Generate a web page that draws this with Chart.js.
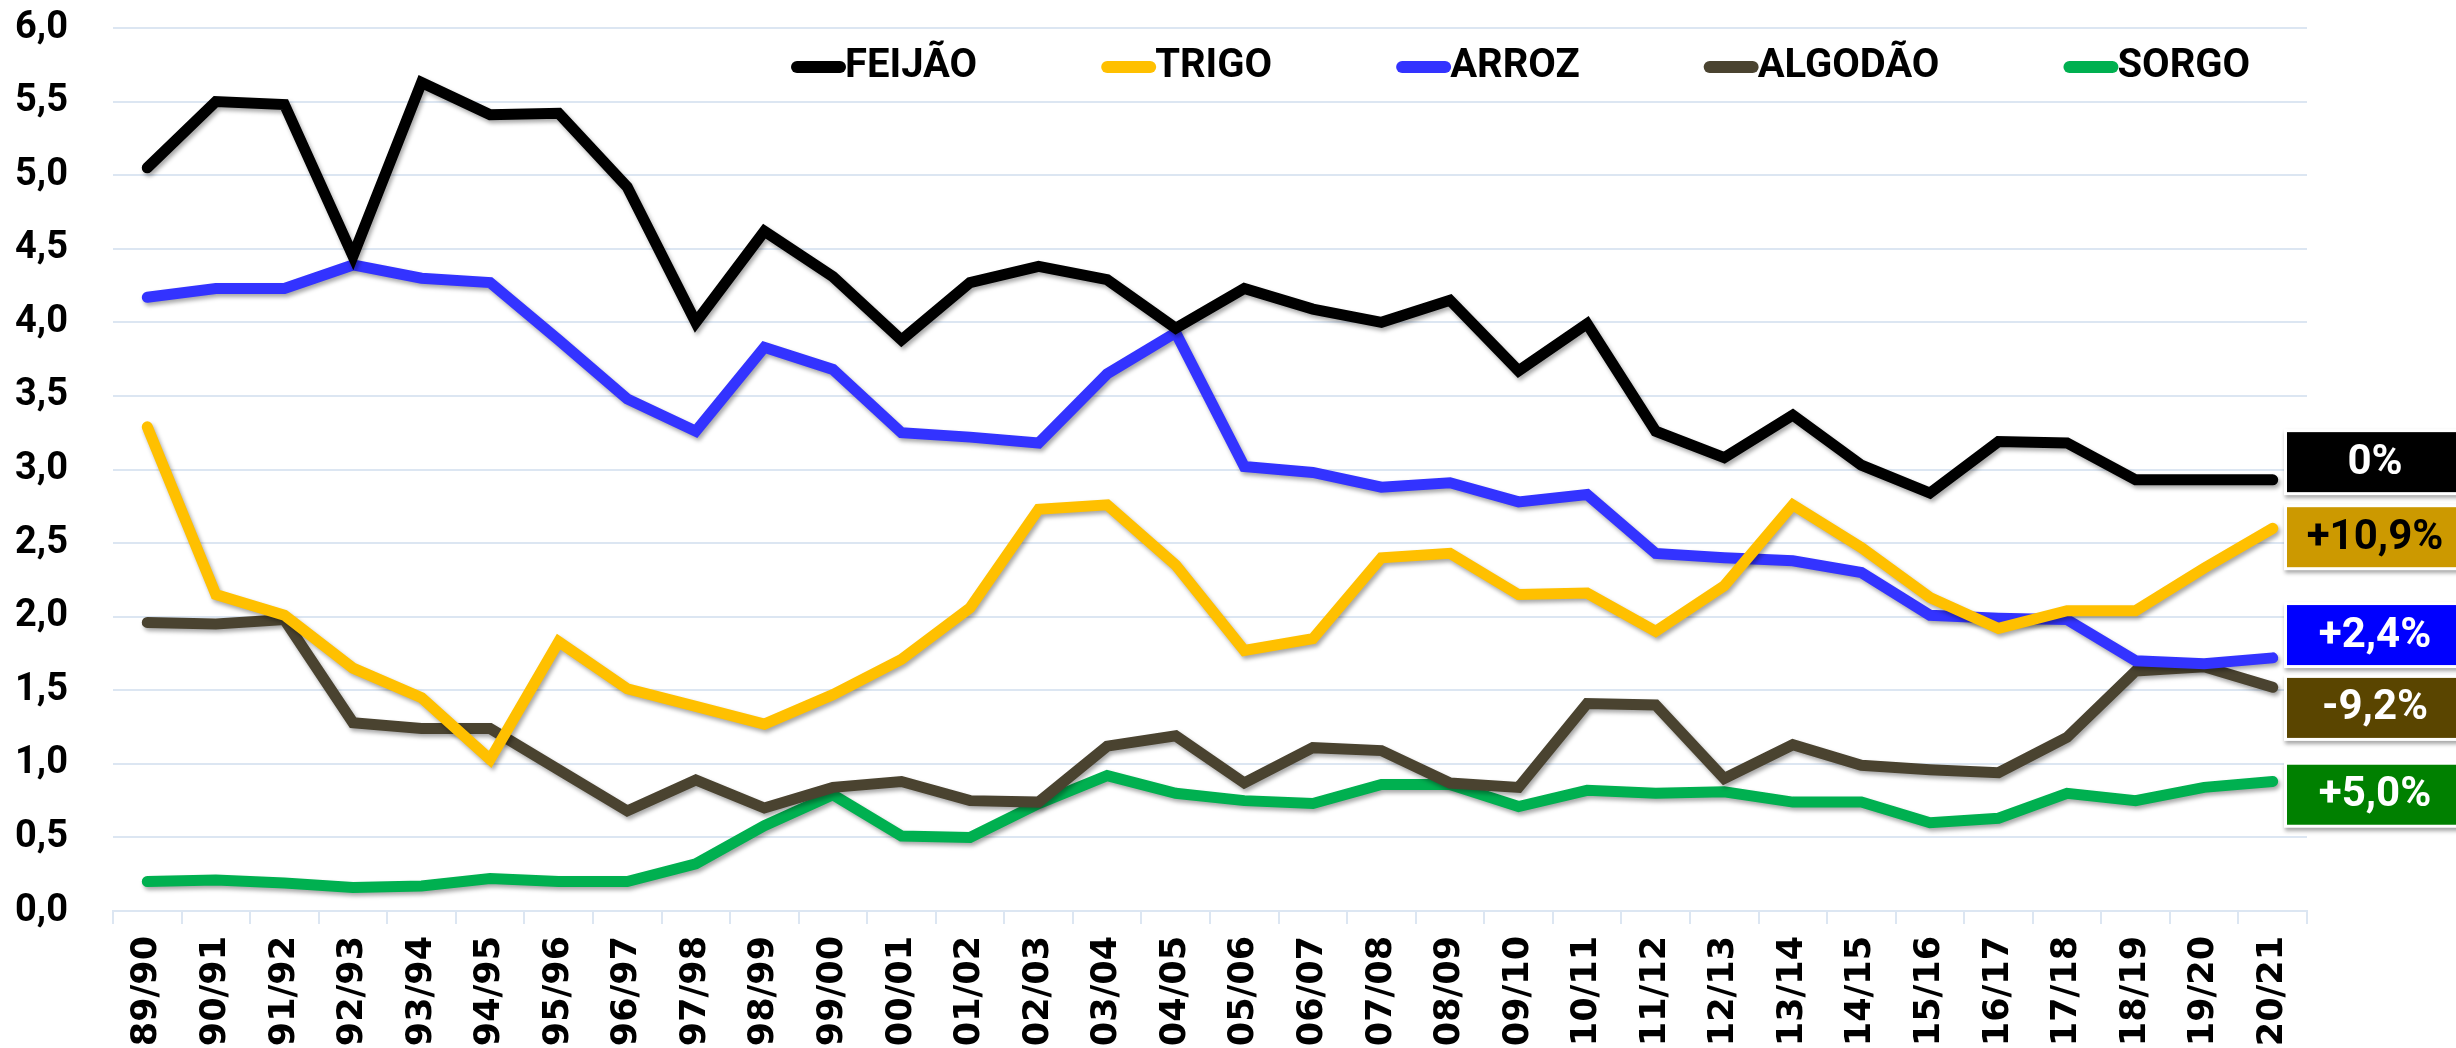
<!DOCTYPE html>
<html>
<head>
<meta charset="utf-8">
<script src="https://cdn.jsdelivr.net/npm/chart.js@4.4.1/dist/chart.umd.min.js"></script>
<style>
  html, body { margin: 0; padding: 0; background: #fff; }
  #wrap { width: 2456px; height: 1048px; position: relative; }
</style>
</head>
<body>
<div id="wrap"><canvas id="grafico"></canvas></div>
<script>
const safras = ['89/90', '90/91', '91/92', '92/93', '93/94', '94/95', '95/96', '96/97', '97/98', '98/99',
  '99/00', '00/01', '01/02', '02/03', '03/04', '04/05', '05/06', '06/07', '07/08', '08/09',
  '09/10', '10/11', '11/12', '12/13', '13/14', '14/15', '15/16', '16/17', '17/18', '18/19',
  '19/20', '20/21'];

const feijao = [5.05, 5.50, 5.48, 4.45, 5.63, 5.41, 5.42, 4.92, 4.00, 4.62, 4.31, 3.88, 4.27, 4.38, 4.29, 3.96,
  4.23, 4.09, 4.00, 4.15, 3.67, 3.99, 3.26, 3.08, 3.37, 3.03, 2.84, 3.19, 3.18, 2.93, 2.93, 2.93];
const trigo = [3.29, 2.15, 2.01, 1.65, 1.45, 1.03, 1.83, 1.51, 1.39, 1.27, 1.47, 1.71, 2.06, 2.73, 2.76, 2.35,
  1.77, 1.85, 2.40, 2.43, 2.15, 2.16, 1.90, 2.21, 2.76, 2.47, 2.13, 1.92, 2.04, 2.04, 2.33, 2.60];
const arroz = [4.17, 4.23, 4.23, 4.39, 4.30, 4.27, 3.88, 3.48, 3.26, 3.83, 3.68, 3.25, 3.22, 3.18, 3.65, 3.93,
  3.02, 2.98, 2.88, 2.91, 2.78, 2.83, 2.43, 2.40, 2.38, 2.30, 2.01, 1.99, 1.98, 1.70, 1.68, 1.72];
const algodao = [1.96, 1.95, 1.98, 1.28, 1.24, 1.24, 0.96, 0.68, 0.89, 0.70, 0.84, 0.88, 0.75, 0.74, 1.12, 1.19,
  0.87, 1.11, 1.09, 0.87, 0.84, 1.41, 1.40, 0.90, 1.13, 0.99, 0.96, 0.94, 1.18, 1.63, 1.66, 1.52];
const sorgo = [0.20, 0.21, 0.19, 0.16, 0.17, 0.22, 0.20, 0.20, 0.32, 0.58, 0.79, 0.51, 0.50, 0.73, 0.92, 0.80,
  0.75, 0.73, 0.86, 0.86, 0.71, 0.82, 0.80, 0.81, 0.74, 0.74, 0.60, 0.63, 0.80, 0.75, 0.84, 0.88];

const yTickLabels = ['0,0', '0,5', '1,0', '1,5', '2,0', '2,5', '3,0', '3,5', '4,0', '4,5', '5,0', '5,5', '6,0'];

// variação de cada cultura (caixas à direita) e a altura (em valor do eixo) onde ficam
const variacoes = ['0%', '+10,9%', '+2,4%', '-9,2%', '+5,0%'];
const variacaoNivel = [3.05, 2.54, 1.875, 1.38, 0.79];
const variacaoCor = ['#000000', '#CC9900', '#0000FF', '#5A4500', '#008000'];
const variacaoTexto = ['#FFFFFF', '#000000', '#FFFFFF', '#FFFFFF', '#FFFFFF'];

const sombra = {
  id: 'sombra',
  beforeDatasetDraw(chart) {
    const ctx = chart.ctx;
    ctx.save();
    ctx.shadowColor = 'rgba(0,0,0,0.35)';
    ctx.shadowBlur = 4;
    ctx.shadowOffsetX = 2;
    ctx.shadowOffsetY = 3;
  },
  afterDatasetDraw(chart) {
    chart.ctx.restore();
  }
};

const legenda = {
  id: 'legenda',
  afterDraw(chart) {
    const ctx = chart.ctx;
    ctx.save();
    ctx.font = 'bold 40px Roboto';
    ctx.textBaseline = 'middle';
    ctx.textAlign = 'left';
    let x = 791;
    const yLeg = 67;
    chart.data.datasets.forEach(ds => {
      ctx.strokeStyle = ds.borderColor;
      ctx.lineWidth = 12;
      ctx.lineCap = 'round';
      ctx.beginPath();
      ctx.moveTo(x + 6, yLeg);
      ctx.lineTo(x + 49, yLeg);
      ctx.stroke();
      ctx.fillStyle = '#000';
      ctx.fillText(ds.label, x + 54, yLeg);
      x += 54 + ctx.measureText(ds.label).width + 124;
    });
    ctx.restore();
  }
};

const caixas = {
  id: 'caixas',
  afterDraw(chart) {
    const { ctx, chartArea, scales } = chart;
    ctx.save();
    variacoes.forEach((txt, i) => {
      const yc = scales.y.getPixelForValue(variacaoNivel[i]);
      const x0 = chartArea.right - 20;
      const h = 60;
      ctx.save();
      ctx.shadowColor = 'rgba(0,0,0,0.35)';
      ctx.shadowBlur = 4;
      ctx.shadowOffsetX = 1;
      ctx.shadowOffsetY = 3;
      ctx.fillStyle = '#FFFFFF';
      ctx.fillRect(x0 - 3, yc - h / 2 - 3, 260, h + 6);
      ctx.restore();
      ctx.fillStyle = variacaoCor[i];
      ctx.fillRect(x0, yc - h / 2, 260, h);
      ctx.fillStyle = variacaoTexto[i];
      ctx.font = 'bold 42px Roboto';
      ctx.textAlign = 'center';
      ctx.textBaseline = 'middle';
      ctx.fillText(txt, chartArea.right + 68, yc + 1);
    });
    ctx.restore();
  }
};

function serie(label, data, cor) {
  return {
    label: label,
    data: data,
    borderColor: cor,
    backgroundColor: cor,
    borderWidth: 11,
    pointRadius: 0,
    tension: 0,
    borderCapStyle: 'round',
    borderJoinStyle: 'miter',
    fill: false
  };
}

const grafico = document.getElementById('grafico');
new Chart(grafico, {
  type: 'line',
  data: {
    labels: safras,
    datasets: [
      serie('FEIJÃO', feijao, '#000000'),
      serie('TRIGO', trigo, '#FFC000'),
      serie('ARROZ', arroz, '#3333FF'),
      serie('ALGODÃO', algodao, '#4A4330'),
      serie('SORGO', sorgo, '#00B050')
    ]
  },
  options: {
    responsive: true,
    maintainAspectRatio: false,
    animation: false,
    layout: { padding: { top: 28, right: 149, bottom: 0, left: 15 } },
    plugins: {
      legend: { display: false },
      tooltip: { enabled: false }
    },
    scales: {
      x: {
        offset: true,
        grid: { offset: true, drawOnChartArea: false, drawTicks: true, tickLength: 13, color: '#DCE6F2', lineWidth: 2 },
        border: { display: true, color: '#DCE6F2', width: 2 },
        ticks: {
          autoSkip: false,
          minRotation: 90,
          maxRotation: 90,
          padding: 12,
          color: '#000',
          font: { family: 'DejaVu Sans', weight: 'bold', size: 35 }
        },
        afterFit(scale) { scale.height = 137; }
      },
      y: {
        min: 0,
        max: 6,
        grid: { color: '#DCE6F2', lineWidth: 2, drawTicks: false },
        border: { display: false },
        ticks: {
          stepSize: 0.5,
          padding: 0,
          crossAlign: 'far',
          color: '#000',
          font: { family: 'Roboto', weight: 'bold', size: 38 },
          callback: v => yTickLabels[Math.round(v / 0.5)]
        },
        afterFit(scale) { scale.width = 98; }
      }
    }
  },
  plugins: [sombra, legenda, caixas]
});
</script>
</body>
</html>
